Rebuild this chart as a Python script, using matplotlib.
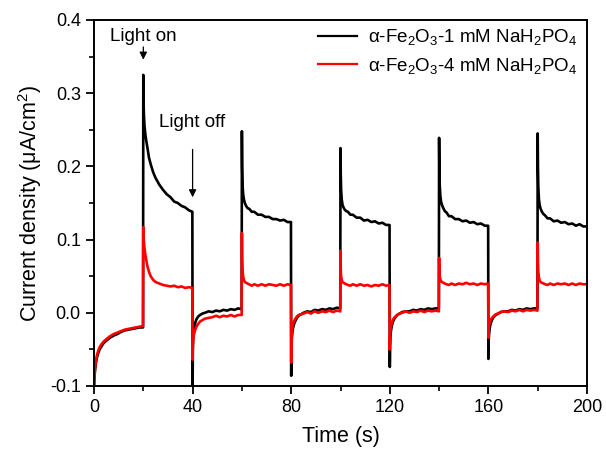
import numpy as np
import matplotlib
matplotlib.use("Agg")
import matplotlib.pyplot as plt
from matplotlib.ticker import MultipleLocator

plt.rcParams['font.family'] = ['Liberation Sans', 'DejaVu Sans']
plt.rcParams['mathtext.fontset'] = 'custom'
plt.rcParams['mathtext.rm'] = 'Liberation Sans'
plt.rcParams['mathtext.it'] = 'Liberation Sans:italic'

# sampling offsets (s) inside each 20 s dark / light period
offsets = [0, 0.1, 0.25, 0.5, 0.8, 1.2, 1.7, 2.3, 3, 4, 5, 6.5, 8, 9.5, 11, 12.5, 14, 15.5, 17, 18.5, 19.9]
period_starts = [0, 20, 40, 60, 80, 100, 120, 140, 160, 180]

# alpha-Fe2O3 - 1 mM NaH2PO4 (black), one list per period
black_periods = [
    [-0.105, -0.095, -0.085, -0.076, -0.068, -0.061, -0.055, -0.050, -0.046, -0.041, -0.038, -0.034, -0.031, -0.029, -0.026, -0.024, -0.023, -0.022, -0.021, -0.020, -0.020],
    [0.325, 0.290, 0.270, 0.255, 0.245, 0.235, 0.225, 0.212, 0.203, 0.192, 0.184, 0.175, 0.168, 0.162, 0.158, 0.152, 0.150, 0.146, 0.144, 0.140, 0.138],
    [-0.105, -0.050, -0.035, -0.025, -0.018, -0.012, -0.008, -0.005, -0.003, -0.001, 0.000, 0.002, 0.001, 0.003, 0.002, 0.004, 0.003, 0.005, 0.004, 0.006, 0.005],
    [0.248, 0.200, 0.175, 0.163, 0.155, 0.150, 0.146, 0.143, 0.142, 0.138, 0.138, 0.134, 0.134, 0.131, 0.131, 0.128, 0.128, 0.126, 0.127, 0.124, 0.124],
    [-0.086, -0.050, -0.035, -0.026, -0.020, -0.015, -0.011, -0.007, -0.004, -0.002, 0.000, 0.002, 0.001, 0.004, 0.003, 0.005, 0.004, 0.006, 0.005, 0.007, 0.006],
    [0.225, 0.190, 0.168, 0.155, 0.148, 0.144, 0.141, 0.139, 0.138, 0.134, 0.134, 0.130, 0.130, 0.126, 0.127, 0.124, 0.125, 0.122, 0.123, 0.120, 0.120],
    [-0.074, -0.045, -0.032, -0.024, -0.018, -0.013, -0.009, -0.006, -0.003, -0.001, 0.001, 0.002, 0.002, 0.004, 0.003, 0.005, 0.004, 0.006, 0.005, 0.006, 0.006],
    [0.239, 0.200, 0.175, 0.160, 0.152, 0.147, 0.143, 0.139, 0.137, 0.132, 0.132, 0.128, 0.128, 0.125, 0.126, 0.123, 0.124, 0.121, 0.122, 0.119, 0.119],
    [-0.063, -0.040, -0.030, -0.022, -0.016, -0.012, -0.008, -0.005, -0.003, -0.001, 0.001, 0.002, 0.002, 0.004, 0.003, 0.005, 0.004, 0.006, 0.005, 0.006, 0.006],
    [0.245, 0.200, 0.172, 0.155, 0.147, 0.142, 0.138, 0.135, 0.133, 0.129, 0.129, 0.125, 0.126, 0.123, 0.124, 0.121, 0.122, 0.119, 0.121, 0.118, 0.118],
]

# alpha-Fe2O3 - 4 mM NaH2PO4 (red), one list per period
red_periods = [
    [-0.100, -0.090, -0.082, -0.073, -0.065, -0.058, -0.052, -0.047, -0.043, -0.039, -0.036, -0.032, -0.029, -0.027, -0.025, -0.023, -0.022, -0.021, -0.020, -0.019, -0.018],
    [0.117, 0.105, 0.097, 0.088, 0.080, 0.072, 0.063, 0.056, 0.050, 0.045, 0.042, 0.040, 0.038, 0.037, 0.036, 0.037, 0.035, 0.036, 0.034, 0.035, 0.034],
    [-0.064, -0.045, -0.036, -0.030, -0.026, -0.022, -0.018, -0.015, -0.012, -0.010, -0.008, -0.007, -0.006, -0.004, -0.006, -0.004, -0.005, -0.003, -0.005, -0.003, -0.003],
    [0.109, 0.075, 0.058, 0.050, 0.045, 0.042, 0.041, 0.040, 0.039, 0.037, 0.039, 0.037, 0.039, 0.037, 0.039, 0.038, 0.037, 0.039, 0.037, 0.039, 0.038],
    [-0.068, -0.040, -0.028, -0.020, -0.015, -0.011, -0.008, -0.005, -0.003, -0.002, -0.001, 0.001, -0.001, 0.002, 0.000, 0.002, 0.001, 0.003, 0.001, 0.003, 0.002],
    [0.085, 0.060, 0.050, 0.045, 0.042, 0.041, 0.040, 0.039, 0.038, 0.037, 0.039, 0.037, 0.039, 0.037, 0.038, 0.036, 0.038, 0.037, 0.039, 0.037, 0.038],
    [-0.050, -0.032, -0.024, -0.018, -0.014, -0.010, -0.007, -0.005, -0.003, -0.001, 0.000, 0.002, 0.000, 0.002, 0.001, 0.003, 0.001, 0.003, 0.002, 0.003, 0.002],
    [0.075, 0.058, 0.050, 0.046, 0.043, 0.042, 0.041, 0.040, 0.039, 0.038, 0.040, 0.038, 0.040, 0.039, 0.041, 0.039, 0.040, 0.038, 0.040, 0.039, 0.040],
    [-0.034, -0.024, -0.018, -0.014, -0.011, -0.008, -0.006, -0.004, -0.002, -0.001, 0.001, 0.002, 0.001, 0.003, 0.002, 0.004, 0.002, 0.004, 0.003, 0.004, 0.003],
    [0.096, 0.070, 0.056, 0.048, 0.044, 0.042, 0.041, 0.040, 0.039, 0.038, 0.040, 0.038, 0.040, 0.039, 0.040, 0.038, 0.040, 0.038, 0.040, 0.039, 0.039],
]

x_ticks = [0, 40, 80, 120, 160, 200]
y_ticks = [-0.1, 0.0, 0.1, 0.2, 0.3, 0.4]
labels = ['α-Fe$_2$O$_3$-1 mM NaH$_2$PO$_4$', 'α-Fe$_2$O$_3$-4 mM NaH$_2$PO$_4$']

t = np.concatenate([np.array(offsets) + s for s in period_starts])
black = np.concatenate([np.array(p) for p in black_periods])
red = np.concatenate([np.array(p) for p in red_periods])

fig = plt.figure(figsize=(6.06, 4.55), dpi=100)
ax = fig.add_axes([94/606, 1-386/455, (587-94)/606, (386-20)/455])

ax.plot(t, black, color='black', lw=1.9, label=labels[0])
ax.plot(t, red, color='red', lw=1.9, label=labels[1])

ax.set_xlim(0, 200)
ax.set_ylim(-0.1, 0.4)
ax.set_xticks(x_ticks)
ax.set_yticks(y_ticks)
ax.set_yticklabels([f'{v:.1f}' for v in y_ticks])
ax.xaxis.set_minor_locator(MultipleLocator(20))
ax.yaxis.set_minor_locator(MultipleLocator(0.05))
ax.tick_params(which='major', direction='out', length=6, width=1.3, labelsize=13, top=False, right=False)
ax.tick_params(which='minor', direction='out', length=3.5, width=1.2, top=False, right=False)
for sp in ax.spines.values():
    sp.set_linewidth(1.4)

ax.set_xlabel('Time (s)', fontsize=15.5, labelpad=7)
ax.set_ylabel('Current density (μA/cm$^2$)', fontsize=15.5, labelpad=4)

leg = ax.legend(loc='upper right', bbox_to_anchor=(1.004, 1.011), frameon=False, fontsize=13.5,
                handlelength=2.1, handletextpad=0.6, borderaxespad=0.2, labelspacing=0.45)
for h in leg.get_lines():
    h.set_linewidth(1.6)

ax.text(20, 0.378, 'Light on', ha='center', va='center', fontsize=13.5)
ax.annotate('', xy=(20, 0.342), xytext=(20, 0.367),
            arrowprops=dict(arrowstyle='-|>', color='black', lw=0.9, mutation_scale=11))
ax.text(40, 0.26, 'Light off', ha='center', va='center', fontsize=13.5)
ax.annotate('', xy=(40, 0.154), xytext=(40, 0.227),
            arrowprops=dict(arrowstyle='-|>', color='black', lw=0.9, mutation_scale=11))

fig.savefig('out.png', dpi=100)
